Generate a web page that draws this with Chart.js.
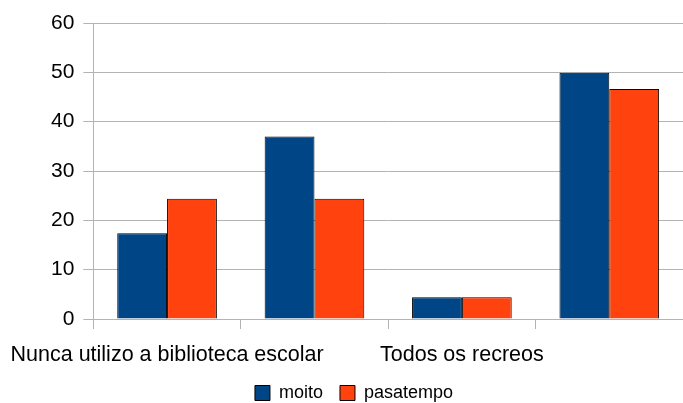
<!DOCTYPE html>
<html>
<head>
<meta charset="utf-8">
<script src="https://cdn.jsdelivr.net/npm/chart.js@4/dist/chart.umd.min.js"></script>
<style>
  html, body { margin: 0; padding: 0; background: #fff; }
  #wrap { width: 683px; height: 403px; }
</style>
</head>
<body>
<div id="wrap"><canvas id="chart"></canvas></div>
<script>
// only the 1st and 3rd category names are visible in the picture
const categories = ['Nunca utilizo a biblioteca escolar', '', 'Todos os recreos', ''];
const moito = [17.4, 37, 4.4, 49.9];
const pasatempo = [24.4, 24.4, 4.4, 46.6];
const yTicks = [0, 10, 20, 30, 40, 50, 60];

const fontFamily = '"Liberation Sans", Arial, sans-serif';

// horizontal nudge for the legend, applied right before drawing
const LEGEND_DX = -10;
const legendShift = {
    id: 'legendShift',
    beforeDraw(chart) {
        const lg = chart.legend;
        if (!lg) return;
        if (lg._baseLeft === undefined || lg._laidOut !== lg.top) {
            lg._baseLeft = lg.left;
            lg._baseRight = lg.right;
            lg._laidOut = lg.top;
        }
        lg.left = lg._baseLeft + LEGEND_DX;
        lg.right = lg._baseRight + LEGEND_DX;
    },
    afterLayout(chart) {
        const lg = chart.legend;
        if (lg) {
            lg._baseLeft = lg.left;
            lg._baseRight = lg.right;
            lg._laidOut = lg.top;
        }
    }
};

new Chart(document.getElementById('chart'), {
    type: 'bar',
    data: {
        labels: categories,
        datasets: [
            {
                label: 'moito',
                data: moito,
                backgroundColor: '#004586',
                borderColor: '#000000',
                borderWidth: 1,
            },
            {
                label: 'pasatempo',
                data: pasatempo,
                backgroundColor: '#ff420e',
                borderColor: '#000000',
                borderWidth: 1,
            },
        ],
    },
    options: {
        responsive: true,
        maintainAspectRatio: false,
        animation: false,
        layout: {
            // plot area runs a little past the right edge in the original
            padding: { left: 42, right: -3, top: 23, bottom: 0 },
        },
        datasets: {
            bar: { categoryPercentage: 0.676, barPercentage: 1.0 },
        },
        scales: {
            x: {
                // long first label may hang over the left edge, like the original
                afterFit: (scale) => {
                    scale.paddingLeft = 0;
                    scale.paddingRight = 0;
                    scale.height = 48;
                },
                grid: {
                    drawOnChartArea: false,
                    drawTicks: true,
                    tickLength: 10,
                    color: '#b3b3b3',
                },
                border: { color: '#b3b3b3' },
                ticks: {
                    autoSkip: false,
                    maxRotation: 0,
                    color: '#000',
                    padding: 13,
                    font: { family: fontFamily, size: 21.5 },
                },
            },
            y: {
                min: 0,
                max: 60,
                afterBuildTicks: (axis) => {
                    axis.ticks = yTicks.map(v => ({ value: v }));
                },
                afterFit: (scale) => {
                    scale.paddingTop = 0;
                    scale.paddingBottom = 0;
                },
                grid: {
                    color: '#b3b3b3',
                    tickLength: 10,
                },
                border: { color: '#b3b3b3' },
                ticks: {
                    color: '#000',
                    padding: 9,
                    font: { family: fontFamily, size: 21 },
                },
            },
        },
        plugins: {
            legend: {
                position: 'bottom',
                maxHeight: 36,
                labels: {
                    boxWidth: 15,
                    boxHeight: 15,
                    color: '#000',
                    padding: 17,
                    font: { family: fontFamily, size: 18 },
                },
            },
            tooltip: { enabled: false },
        },
    },
    plugins: [legendShift],
});
</script>
</body>
</html>
